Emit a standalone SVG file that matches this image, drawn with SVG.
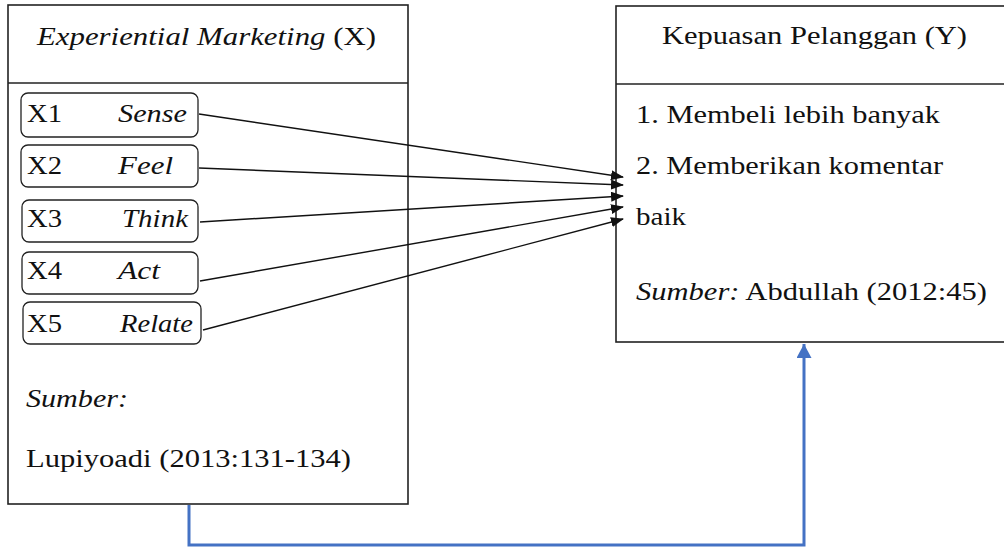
<svg xmlns="http://www.w3.org/2000/svg" width="1004" height="548" viewBox="0 0 1004 548">
<style>
  text { font-family: "Liberation Serif", serif; font-size: 26px; fill: #111; }
  .it { font-style: italic; }
  .box { fill: #fff; stroke: #222; stroke-width: 1.6; }
  .div { stroke: #222; stroke-width: 1.6; }
  .sub { fill: #fff; stroke: #222; stroke-width: 1.3; }
  .arr { stroke: #111; stroke-width: 1.4; fill: none; }
  .blue { stroke: #4472C4; stroke-width: 3; fill: none; }
</style>
<defs>
  <marker id="ah" markerUnits="userSpaceOnUse" markerWidth="13" markerHeight="11" refX="12" refY="5" orient="auto">
    <path d="M0,0 L13,5 L0,10 z" fill="#111"/>
  </marker>
  <marker id="ahb" markerUnits="userSpaceOnUse" markerWidth="16" markerHeight="16" refX="14" refY="7.5" orient="auto">
    <path d="M0,0 L14,7.5 L0,15 z" fill="#4472C4"/>
  </marker>
</defs>
<rect width="1004" height="548" fill="#fff"/>

<g id="node-x">
  <rect class="box" x="8" y="5" width="400" height="499"/>
  <line class="div" x1="8" y1="83" x2="408" y2="83"/>
  <text x="37" y="45" textLength="339" lengthAdjust="spacingAndGlyphs"><tspan class="it">Experiential Marketing</tspan> (X)</text>
  <text class="it" x="26" y="407" textLength="102" lengthAdjust="spacingAndGlyphs">Sumber:</text>
  <text x="26" y="467" textLength="325" lengthAdjust="spacingAndGlyphs">Lupiyoadi (2013:131-134)</text>
</g>

<g id="node-x1">
  <rect class="sub" x="21" y="93" width="177" height="44" rx="7"/>
  <text x="27" y="122" textLength="35" lengthAdjust="spacingAndGlyphs">X1</text>
  <text class="it" x="118" y="122" textLength="69" lengthAdjust="spacingAndGlyphs">Sense</text>
</g>
<g id="node-x2">
  <rect class="sub" x="21" y="145" width="177" height="42" rx="7"/>
  <text x="27" y="174" textLength="35" lengthAdjust="spacingAndGlyphs">X2</text>
  <text class="it" x="118" y="174" textLength="55" lengthAdjust="spacingAndGlyphs">Feel</text>
</g>
<g id="node-x3">
  <rect class="sub" x="22" y="200" width="176" height="42" rx="7"/>
  <text x="27" y="227" textLength="35" lengthAdjust="spacingAndGlyphs">X3</text>
  <text class="it" x="122" y="227" textLength="66" lengthAdjust="spacingAndGlyphs">Think</text>
</g>
<g id="node-x4">
  <rect class="sub" x="22" y="252" width="176" height="42" rx="7"/>
  <text x="27" y="279" textLength="35" lengthAdjust="spacingAndGlyphs">X4</text>
  <text class="it" x="118" y="279" textLength="42" lengthAdjust="spacingAndGlyphs">Act</text>
</g>
<g id="node-x5">
  <rect class="sub" x="23" y="302" width="178" height="42" rx="7"/>
  <text x="27" y="332" textLength="35" lengthAdjust="spacingAndGlyphs">X5</text>
  <text class="it" x="120" y="332" textLength="73" lengthAdjust="spacingAndGlyphs">Relate</text>
</g>

<g id="node-y">
  <rect class="box" x="616" y="6" width="420" height="336"/>
  <line class="div" x1="616" y1="84" x2="1010" y2="84"/>
  <text x="662" y="44" textLength="305" lengthAdjust="spacingAndGlyphs">Kepuasan Pelanggan (Y)</text>
  <text x="636" y="123" textLength="304" lengthAdjust="spacingAndGlyphs">1. Membeli lebih banyak</text>
  <text x="636" y="174" textLength="307" lengthAdjust="spacingAndGlyphs">2. Memberikan komentar</text>
  <text x="636" y="225" textLength="50" lengthAdjust="spacingAndGlyphs">baik</text>
  <text x="636" y="300" textLength="351" lengthAdjust="spacingAndGlyphs"><tspan class="it">Sumber:</tspan> Abdullah (2012:45)</text>
</g>

<g id="connectors">
  <line class="arr" x1="199" y1="114" x2="623" y2="177" marker-end="url(#ah)"/>
  <line class="arr" x1="199" y1="168" x2="623" y2="185" marker-end="url(#ah)"/>
  <line class="arr" x1="200" y1="222" x2="623" y2="196" marker-end="url(#ah)"/>
  <line class="arr" x1="200" y1="281" x2="623" y2="207" marker-end="url(#ah)"/>
  <line class="arr" x1="203" y1="330" x2="623" y2="219" marker-end="url(#ah)"/>
  <polyline class="blue" points="189,505 189,545 804,545 804,344" marker-end="url(#ahb)"/>
</g>
</svg>
